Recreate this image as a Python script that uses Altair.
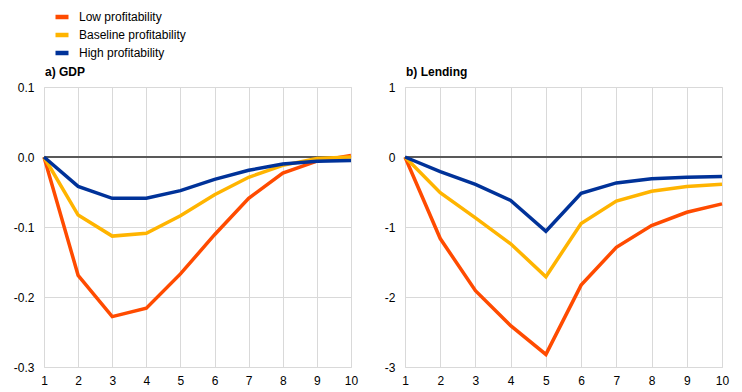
import altair as alt
import pandas as pd

periods = list(range(1, 11))
series = ["Low profitability", "Baseline profitability", "High profitability"]
colors = ["#FF4B00", "#FFB400", "#003299"]

gdp_low = [0, -0.169, -0.228, -0.216, -0.167, -0.111, -0.059, -0.023, -0.006, 0.002]
gdp_base = [0, -0.083, -0.113, -0.109, -0.084, -0.054, -0.029, -0.012, -0.002, 0.0]
gdp_high = [0, -0.042, -0.059, -0.059, -0.048, -0.032, -0.019, -0.010, -0.006, -0.005]

lend_low = [0, -1.165, -1.91, -2.41, -2.82, -1.83, -1.29, -0.98, -0.79, -0.67]
lend_base = [0, -0.51, -0.87, -1.24, -1.71, -0.95, -0.63, -0.49, -0.42, -0.39]
lend_high = [0, -0.21, -0.39, -0.62, -1.06, -0.52, -0.37, -0.31, -0.29, -0.28]

gdp_ticks = [0.1, 0.0, -0.1, -0.2, -0.3]
lend_ticks = [1, 0, -1, -2, -3]

FONT = "Liberation Sans"


def make_df(vals):
    rows = []
    for i, (s, v) in enumerate(zip(series, vals)):
        for p, y in zip(periods, v):
            rows.append({"period": p, "series": s, "value": y, "k": i})
    return pd.DataFrame(rows)


legend = alt.Legend(title=None, orient="none", legendX=9, legendY=-79,
                    symbolType="stroke", symbolStrokeWidth=4.5, symbolSize=169,
                    labelFontSize=12, labelFont=FONT, labelColor="#000000",
                    labelOffset=8, rowPadding=0, padding=0, labelLimit=300)


def panel(df, title, ydom, yticks, fmt, w, extent):
    x = alt.X(
        "period:Q",
        scale=alt.Scale(domain=[1, 10], nice=False),
        axis=alt.Axis(values=periods, title=None, grid=True, gridColor="#d9d9d9",
                      gridWidth=1, domain=False, ticks=False, labelPadding=8,
                      labelFontSize=12, labelColor="#000000", labelFont=FONT,
                      labelFlush=False),
    )
    y = alt.Y(
        "value:Q",
        scale=alt.Scale(domain=ydom, nice=False, zero=False),
        axis=alt.Axis(values=yticks, title=None, grid=True, gridColor="#d9d9d9",
                      gridWidth=1, domain=False, ticks=False, labelPadding=10,
                      labelFontSize=12, labelColor="#000000", labelFont=FONT,
                      labelExpr="replace(format(datum.value, '" + fmt + "'), '\u2212', '-')",
                      minExtent=extent, maxExtent=extent),
    )
    color = alt.Color("series:N", scale=alt.Scale(domain=series, range=colors),
                      legend=legend, sort=series)
    zero = alt.Chart(pd.DataFrame({"value": [0.0]})).mark_rule(
        color="#595959", strokeWidth=2).encode(y=y)
    lines = alt.Chart(df).mark_line(strokeWidth=3.5).encode(
        x=x, y=y, color=color, detail="k:N")
    return alt.layer(zero, lines).properties(
        width=w, height=280,
        title=alt.TitleParams(title, anchor="start", frame="group", fontSize=12,
                              fontWeight="bold", font=FONT, color="#000000",
                              offset=2, dx=1),
    )


left = panel(make_df([gdp_low, gdp_base, gdp_high]), "a) GDP", [-0.3, 0.1],
             gdp_ticks, ".1f", 307, 35)
right = panel(make_df([lend_low, lend_base, lend_high]), "b) Lending", [-3, 1],
              lend_ticks, "d", 317, 25)

chart = alt.hconcat(left, right, spacing=20).configure_view(
    stroke=None).configure(font=FONT, padding=0)

chart.save("out.html", embed_options={"renderer": "svg", "actions": False})
